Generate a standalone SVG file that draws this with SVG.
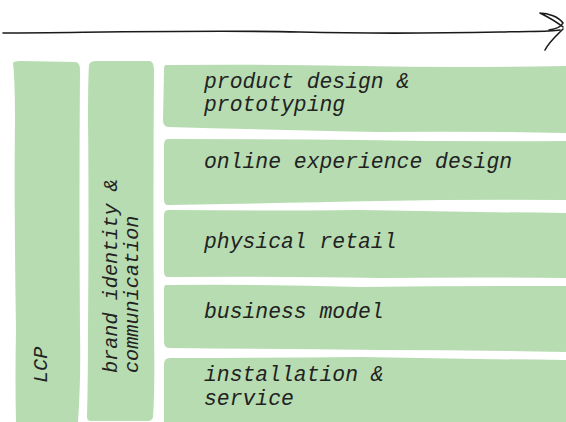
<svg xmlns="http://www.w3.org/2000/svg" width="566" height="422" viewBox="0 0 566 422">
<style>
.box{fill:#b7dcb1;stroke:none}
.t{font-family:"Liberation Mono","Courier New",monospace;font-style:italic;fill:#222;font-size:21.4px}
.v{font-family:"Liberation Mono","Courier New",monospace;font-style:italic;fill:#222;font-size:20.2px}
.ln{fill:none;stroke:#1a1a1a;stroke-linecap:round;stroke-linejoin:round}
</style>
<rect width="566" height="422" fill="#ffffff"/>
<g id="connectors">
<path class="ln" stroke-width="1.6" d="M3,33 C120,32 220,30 300,32 C380,34 450,33 500,32 C530,31 548,32 560,30"/>
<path class="ln" stroke-width="1.6" d="M540,13 C548,13 559,17 563,23 C561,27 556,29 549,30 M540,13 C550,18 558,23 563,27 M563,29 C557,35 549,42 545,50"/>
</g>
<g id="lcp">
<path class="box" d="M13,63 Q14,61 20,61 L76,62 Q80,63 80,70 Q79,200 80,330 Q81,380 78,422 L16,422 Q15,380 16,330 Q14,200 15,120 Q15,80 13,63 Z"/>
<text class="v" transform="translate(47,383) rotate(-90)">LCP</text>
</g>
<g id="brand">
<path class="box" d="M89,65 Q90,61 96,61 L150,61 Q154,62 154,70 Q153,200 154,330 Q155,390 153,417 Q152,421 148,421 L91,421 Q87,421 87,417 Q88,380 88,330 Q89,200 88,120 Q88,80 89,65 Z"/>
<text class="v" transform="translate(117,373) rotate(-90)">brand identity &amp;</text>
<text class="v" transform="translate(138,373) rotate(-90)">communication</text>
</g>
<g id="row1">
<path class="box" d="M166,65 Q260,64 360,66 Q460,68 566,66 L566,133 Q470,131 380,132 Q280,130 168,127 Q163,126 163,120 L164,70 Q164,65 166,65 Z"/>
<text class="t" x="204" y="88">product design &amp;</text>
<text class="t" x="204" y="111">prototyping</text>
</g>
<g id="row2">
<path class="box" d="M168,139 Q260,139 360,140 Q460,142 566,141 L566,200 Q470,199 380,201 Q280,203 168,205 Q164,205 164,200 L164,145 Q164,139 168,139 Z"/>
<text class="t" x="204" y="168">online experience design</text>
</g>
<g id="row3">
<path class="box" d="M169,210 Q260,211 360,210 Q460,212 566,213 L566,278 Q470,277 380,278 Q280,276 168,277 Q164,277 164,272 L164,215 Q164,210 169,210 Z"/>
<text class="t" x="204" y="248">physical retail</text>
</g>
<g id="row4">
<path class="box" d="M166,285 Q260,284 360,287 Q460,286 566,286 L566,352 Q470,350 380,350 Q280,349 170,348 Q164,348 164,342 L164,290 Q164,285 166,285 Z"/>
<text class="t" x="204" y="318">business model</text>
</g>
<g id="row5">
<path class="box" d="M170,358 Q260,358 360,357 Q460,359 566,360 L566,422 L164,422 L164,364 Q164,358 170,358 Z"/>
<text class="t" x="204" y="381">installation &amp;</text>
<text class="t" x="204" y="405">service</text>
</g>
</svg>
